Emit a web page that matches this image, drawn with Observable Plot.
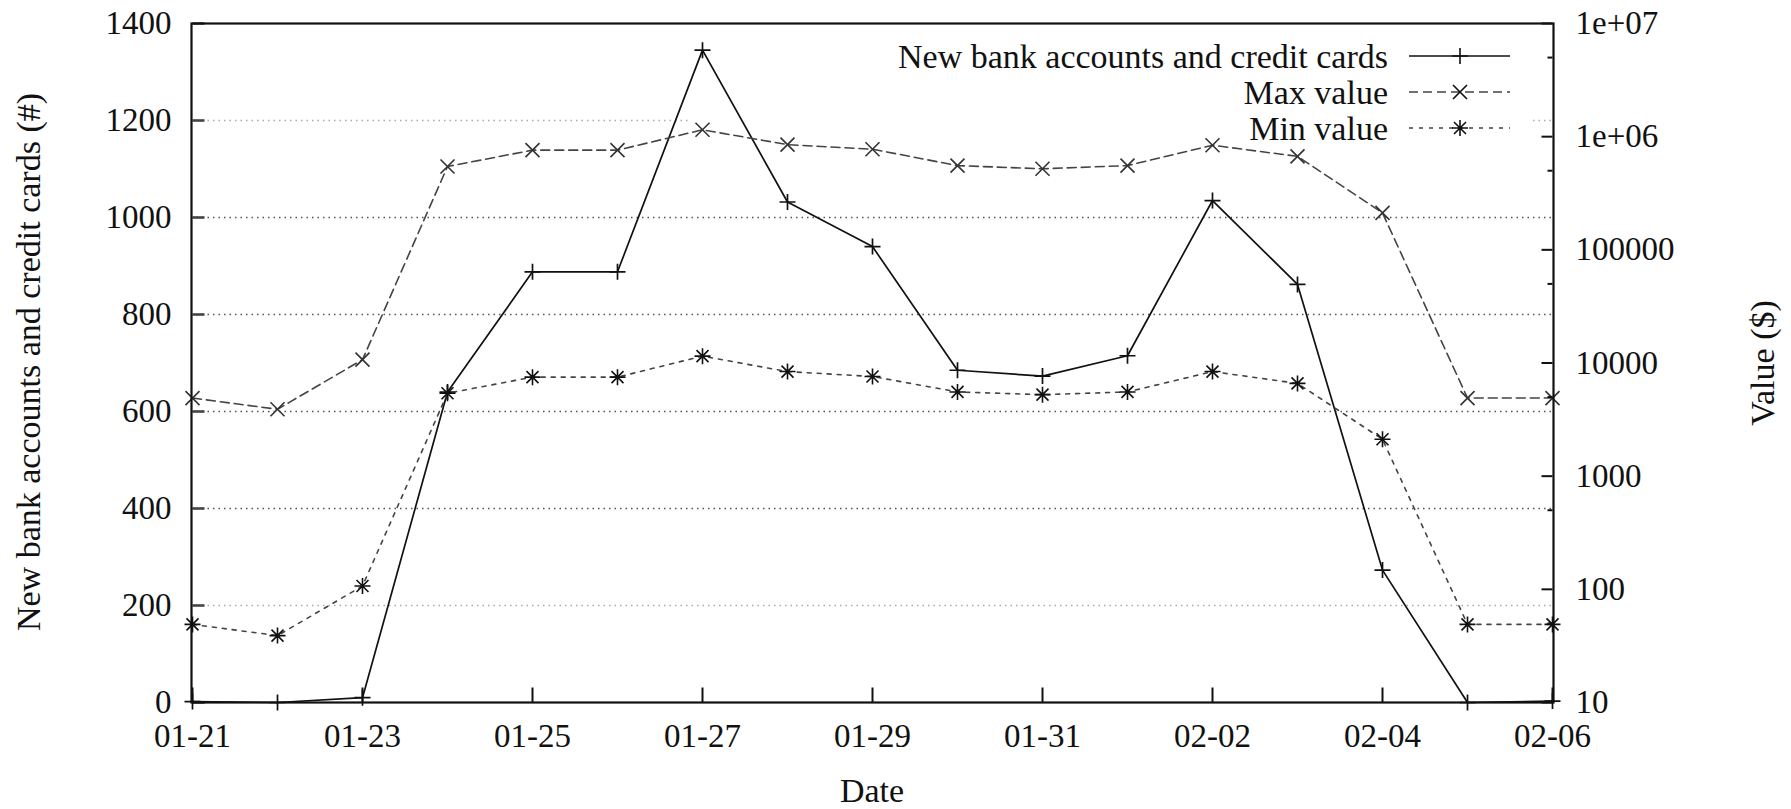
<!DOCTYPE html>
<html>
<head>
<meta charset="utf-8">
<script src="https://cdn.jsdelivr.net/npm/d3@7"></script>
<script src="https://cdn.jsdelivr.net/npm/@observablehq/plot@0.6"></script>
<style>
  html, body { margin: 0; padding: 0; background: #fff; }
  #chart { position: relative; width: 1791px; height: 809px; }
  #chart svg { position: absolute; left: 0; top: 0; }
</style>
</head>
<body>
<div id="chart"></div>
<script>
// ---- data ----
const dates = ["01-21","01-22","01-23","01-24","01-25","01-26","01-27","01-28","01-29",
               "01-30","01-31","02-01","02-02","02-03","02-04","02-05","02-06"];
const dateTicks = ["01-21","01-23","01-25","01-27","01-29","01-31","02-02","02-04","02-06"];

// new bank accounts and credit cards per day (left axis, count)
const accounts = [2, 0, 10, 640, 888, 888, 1345, 1032, 940, 685, 673, 715, 1035, 862, 273, 0, 3];
// max / min value of the offers per day (right axis, $, log scale)
const maxValue = [4900, 3900, 10700, 545000, 760000, 760000, 1150000, 850000, 775000, 555000,
                  520000, 555000, 840000, 670000, 212000, 4900, 4900];
const minValue = [49, 39, 107, 5400, 7500, 7500, 11500, 8400, 7600, 5550, 5250, 5550, 8400,
                  6600, 2120, 49, 49];

const countTicks = [0, 200, 400, 600, 800, 1000, 1200, 1400];
const countGridDark = [400, 600, 800, 1000];
const countGridLight = [200, 1200];
const valueTicks = [10, 100, 1000, 10000, 100000, 1e6, 1e7];
const valueTickLabels = ["10", "100", "1000", "10000", "100000", "1e+06", "1e+07"];
const valueMinorTicks = [50, 500, 5000, 50000, 500000, 5e6];

const rows = dates.map((d, i) => ({date: d, accounts: accounts[i], max: maxValue[i], min: minValue[i]}));

// ---- point and tick shapes (gnuplot style) ----
const segs = pairs => ({
  draw(ctx) { for (const [x1, y1, x2, y2] of pairs) { ctx.moveTo(x1, y1); ctx.lineTo(x2, y2); } }
});
const plusMark = segs([[-8, 0, 8, 0], [0, -8, 0, 8]]);
const timesMark = segs([[-7, -7, 7, 7], [-7, 7, 7, -7]]);
const starMark = segs([[-8, 0, 8, 0], [0, -8, 0, 8], [-6, -6, 6, 6], [-6, 6, 6, -6]]);
const tickUp = segs([[0, 0, 0, -15]]);
const tickRight = segs([[0, 0, 12, 0]]);
const tickLeft = len => segs([[0, 0, -len, 0]]);

const FONT = "'Liberation Serif', 'Times New Roman', serif";
const W = 1791, H = 809;
const base = {
  width: W, height: H,
  marginLeft: 191, marginRight: 238, marginTop: 23, marginBottom: 107,
  x: {type: "point", domain: dates, padding: 0, axis: null}
};
const first = () => dates[0];
const last = () => dates[dates.length - 1];

// layer 1: grid, left and bottom axes
const axesLayer = Plot.plot({
  ...base,
  y: {domain: [0, 1400], axis: null},
  style: {background: "white", fontFamily: FONT, fontSize: "33px", color: "#111"},
  marks: [
    Plot.ruleY(countGridDark, {stroke: "#555", strokeWidth: 1.4, strokeDasharray: "1.5,4"}),
    Plot.ruleY(countGridLight, {stroke: "#aaa", strokeWidth: 1.4, strokeDasharray: "1.5,4"}),
    Plot.dot(countTicks, {x: first, y: d => d, symbol: tickRight, stroke: "#444", strokeWidth: 2.6, fill: "none"}),
    Plot.dot(dateTicks, {x: d => d, y: () => 0, symbol: tickUp, stroke: "#111", strokeWidth: 2, fill: "none"}),
    Plot.text(countTicks, {x: first, y: d => d, text: d => String(d), textAnchor: "end", dx: -21, fontSize: 33}),
    Plot.text(dateTicks, {x: d => d, y: () => 0, text: d => d, dy: 34, fontSize: 33})
  ]
});

// axis titles
const s1 = d3.select(axesLayer);
s1.append("text")
  .attr("transform", "translate(28,362) rotate(-90)")
  .attr("text-anchor", "middle").attr("dy", "0.35em")
  .attr("font-family", FONT).attr("font-size", 34).attr("fill", "#111")
  .text("New bank accounts and credit cards (#)");
s1.append("text")
  .attr("transform", "translate(1762,363) rotate(-90)")
  .attr("text-anchor", "middle").attr("dy", "0.35em")
  .attr("font-family", FONT).attr("font-size", 34).attr("fill", "#111")
  .text("Value ($)");
s1.append("text")
  .attr("x", 872).attr("y", 790)
  .attr("text-anchor", "middle").attr("dy", "0.35em")
  .attr("font-family", FONT).attr("font-size", 34).attr("fill", "#111")
  .text("Date");

// key (opaque box over the grid, below the data lines)
const key = s1.append("g");
key.append("rect").attr("x", 690).attr("y", 34).attr("width", 843).attr("height", 108).attr("fill", "white");
const keyItems = [
  {label: "New bank accounts and credit cards", dash: null, stroke: "#111", mark: plusMark},
  {label: "Max value", dash: "9,5", stroke: "#444", mark: timesMark},
  {label: "Min value", dash: "4,6", stroke: "#444", mark: starMark}
];
keyItems.forEach((k, i) => {
  const y = 56 + i * 36;
  key.append("text").attr("x", 1388).attr("y", y).attr("dy", "0.35em")
    .attr("text-anchor", "end").attr("font-family", FONT).attr("font-size", 34).attr("fill", "#111")
    .text(k.label);
  key.append("line").attr("x1", 1409).attr("x2", 1510).attr("y1", y).attr("y2", y)
    .attr("stroke", k.stroke).attr("stroke-width", 1.6).attr("stroke-dasharray", k.dash);
  key.append("path").attr("transform", `translate(1460,${y})`)
    .attr("d", d3.symbol().type(k.mark)())
    .attr("fill", "none").attr("stroke", "#111").attr("stroke-width", 1.6);
});

// layer 2: accounts on the linear left scale
const countLayer = Plot.plot({
  ...base,
  y: {domain: [0, 1400], axis: null},
  style: {background: "transparent"},
  marks: [
    Plot.line(rows, {x: "date", y: "accounts", stroke: "#111", strokeWidth: 1.7}),
    Plot.dot(rows, {x: "date", y: "accounts", symbol: plusMark, stroke: "#111", strokeWidth: 1.7, fill: "none"})
  ]
});

// layer 3: max / min value on the log right scale, right axis and border
const valueLayer = Plot.plot({
  ...base,
  y: {type: "log", domain: [10, 1e7], axis: null},
  style: {background: "transparent", fontFamily: FONT, fontSize: "33px", color: "#111"},
  marks: [
    Plot.line(rows, {x: "date", y: "max", stroke: "#444", strokeWidth: 1.6, strokeDasharray: "9,5"}),
    Plot.dot(rows, {x: "date", y: "max", symbol: timesMark, stroke: "#333", strokeWidth: 1.6, fill: "none"}),
    Plot.line(rows, {x: "date", y: "min", stroke: "#444", strokeWidth: 1.6, strokeDasharray: "4,6"}),
    Plot.dot(rows, {x: "date", y: "min", symbol: starMark, stroke: "#111", strokeWidth: 1.6, fill: "none"}),
    Plot.dot(valueTicks, {x: last, y: d => d, symbol: tickLeft(11), stroke: "#111", strokeWidth: 2, fill: "none"}),
    Plot.dot(valueMinorTicks, {x: last, y: d => d, symbol: tickLeft(5), stroke: "#111", strokeWidth: 2, fill: "none"}),
    Plot.text(valueTicks, {x: last, y: d => d, text: (d, i) => valueTickLabels[i], textAnchor: "start", dx: 23, fontSize: 33}),
    Plot.frame({stroke: "#111", strokeWidth: 2.2})
  ]
});

const chart = document.getElementById("chart");
chart.append(axesLayer, countLayer, valueLayer);
</script>
</body>
</html>
